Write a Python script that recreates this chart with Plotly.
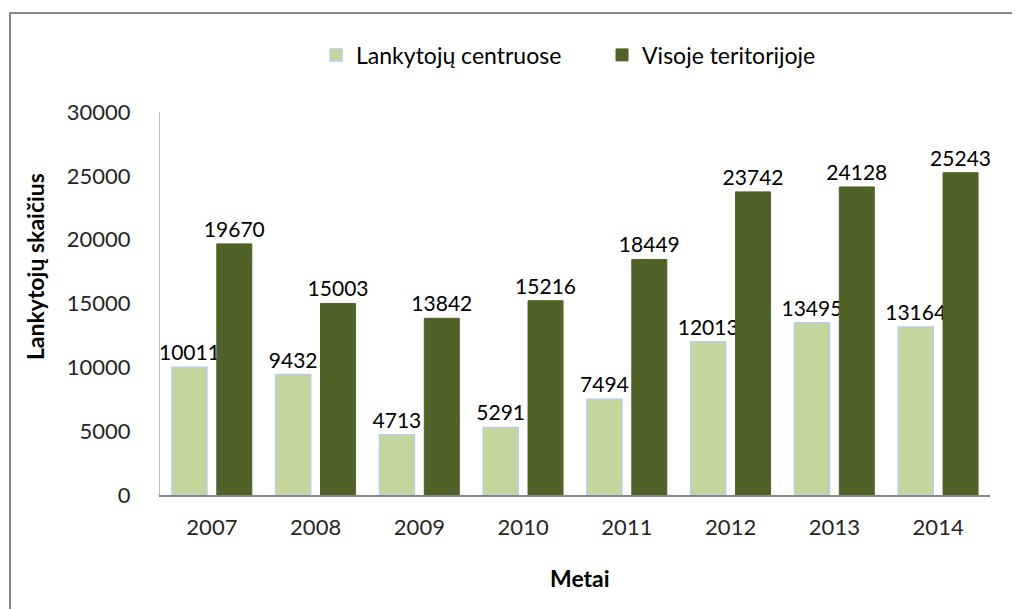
import plotly.graph_objs as go

years = ['2007', '2008', '2009', '2010', '2011', '2012', '2013', '2014']
centruose = [10011, 9432, 4713, 5291, 7494, 12013, 13495, 13164]
teritorijoje = [19670, 15003, 13842, 15216, 18449, 23742, 24128, 25243]

FONT = 'Lato'

fig = go.Figure()
fig.add_trace(go.Bar(
    x=years, y=centruose, name='Lankytojų centruose',
    marker=dict(color='#C3D69B', line=dict(color='#B9CDE5', width=1.5)),
    text=centruose, textposition='outside', cliponaxis=False, constraintext='none',
    textfont=dict(family=FONT, size=21, color='black'),
))
fig.add_trace(go.Bar(
    x=years, y=teritorijoje, name='Visoje teritorijoje',
    marker=dict(color='#4F6228', line=dict(color='#4F6228', width=1)),
    text=teritorijoje, textposition='outside', cliponaxis=False, constraintext='none',
    textfont=dict(family=FONT, size=21, color='black'),
))

# page has an 8px body margin, so margins are shifted by 8
fig.update_layout(
    width=1020, height=609,
    autosize=False,
    paper_bgcolor='white', plot_bgcolor='white',
    margin=dict(l=152, r=38, t=104, b=122, autoexpand=False),
    barmode='group', bargap=0.135, bargroupgap=0.22,
    font=dict(family=FONT, size=22, color='#262626'),
    showlegend=True,
    legend=dict(orientation='h', x=0.188, y=1.149, xanchor='left', yanchor='middle',
                font=dict(family=FONT, size=23, color='black'),
                entrywidth=241, entrywidthmode='pixels', itemwidth=30),
    xaxis=dict(
        showline=True, linecolor='#868686', linewidth=1.5,
        ticks='', tickfont=dict(family=FONT, size=22, color='#262626'),
        showgrid=False, automargin=False, ticklabelstandoff=12,
    ),
    yaxis=dict(
        range=[0, 30000], dtick=5000, tickformat='d',
        showline=True, linecolor='#BFBFBF', linewidth=1,
        ticks='', tickfont=dict(family=FONT, size=22, color='#262626'),
        showgrid=False, zeroline=False, ticklabelstandoff=24, automargin=False,
    ),
    annotations=[
        dict(text='<b>Lankytojų skaičius</b>', xref='paper', yref='paper',
             x=-0.1506, y=0.595, xanchor='center', yanchor='middle',
             textangle=-90, showarrow=False,
             font=dict(family=FONT, size=23, color='black')),
        dict(text='<b>Metai</b>', xref='paper', yref='paper',
             x=0.506, y=-0.2167, xanchor='center', yanchor='middle', showarrow=False,
             font=dict(family=FONT, size=23, color='black')),
    ],
    shapes=[dict(type='rect', xref='paper', yref='paper',
                 x0=-0.1807, x1=1.06, y0=-0.34, y1=1.2585,
                 line=dict(color='#868686', width=2), fillcolor='rgba(0,0,0,0)', layer='below')],
)

fig.write_html('out.html')
